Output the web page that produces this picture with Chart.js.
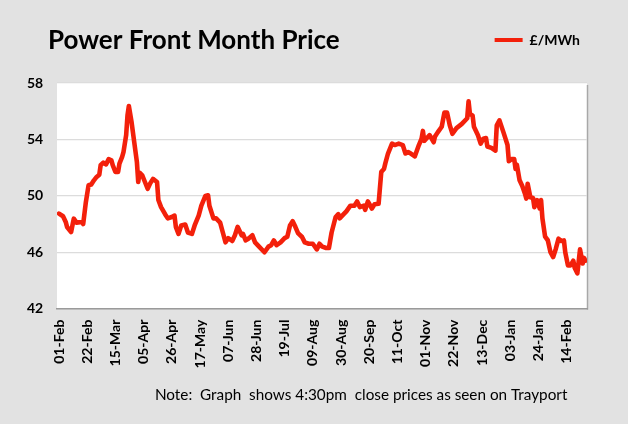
<!DOCTYPE html>
<html>
<head>
<meta charset="utf-8">
<script src="https://cdn.jsdelivr.net/npm/chart.js@4/dist/chart.umd.min.js"></script>
<style>
  html, body { margin: 0; padding: 0; background: #e2e2e2; }
  #c { display: block; background: #e2e2e2; }
</style>
</head>
<body>
<canvas id="c" width="628" height="424"></canvas>
<script>
// Days counted from 01-Feb (day 0)
const days = [0,3,5,6,9,11,13,17,18,20,22,24,26,28,30,31,33,35,37,39,40,42,44,45,47,48,50,51,52,54,56,58,59,60,62,64,66,68,70,73,74,76,79,81,84,86,87,89,91,94,96,99,101,104,106,109,111,112,115,117,120,122,124,126,129,131,133,136,137,139,141,144,146,149,153,156,158,160,162,165,168,170,172,174,176,178,181,183,186,189,192,194,196,199,201,203,206,208,209,212,214,217,220,222,224,227,228,230,233,235,238,240,242,243,245,248,250,253,256,258,260,262,265,268,270,271,272,274,276,279,280,282,285,287,289,291,293,296,300,304,305,306,308,309,312,314,316,318,319,322,325,326,328,331,334,335,337,339,340,341,343,345,347,348,349,351,353,354,356,358,359,360,362,364,366,368,370,372,374,376,377,379,381,383,384,386,388,390,391,392];
const prices = [48.74,48.55,48.15,47.79,47.43,48.38,48.10,48.15,48.00,49.56,50.75,50.80,51.10,51.34,51.50,52.17,52.36,52.23,52.60,52.52,52.17,51.70,51.70,52.28,52.76,53.10,54.30,55.70,56.37,55.24,53.82,52.40,50.98,51.64,51.45,50.98,50.50,50.90,51.20,50.98,49.70,49.20,48.70,48.40,48.50,48.60,47.80,47.30,47.90,47.96,47.40,47.30,47.90,48.60,49.30,49.99,50.04,49.30,48.40,48.40,48.10,47.40,46.70,47.00,46.80,47.20,47.80,47.20,47.30,46.84,46.96,47.20,46.70,46.40,46.00,46.40,46.50,46.84,46.50,46.70,47.00,47.10,47.90,48.20,47.80,47.36,47.08,46.70,46.60,46.60,46.20,46.60,46.40,46.30,46.30,47.40,48.50,48.70,48.40,48.70,48.90,49.30,49.30,49.60,49.20,49.30,49.00,49.60,49.10,49.40,49.44,51.70,51.90,52.30,53.00,53.70,53.60,53.70,53.60,53.00,53.10,53.00,52.80,53.60,54.05,54.60,53.90,54.10,54.30,53.80,54.20,54.50,54.90,55.90,55.90,55.00,54.40,54.80,55.10,55.50,56.70,55.80,55.70,54.90,54.30,53.70,54.05,54.10,53.50,53.40,53.20,55.00,55.35,54.50,53.60,52.45,52.60,52.60,51.90,52.20,51.10,50.70,50.15,49.80,50.86,49.90,49.85,49.20,49.70,49.10,49.70,48.40,47.10,46.85,46.00,45.66,46.25,46.96,46.80,46.84,46.00,45.07,45.07,45.40,44.90,44.50,46.20,45.20,45.60,45.40];
const tickLabels = ['01-Feb','22-Feb','15-Mar','05-Apr','26-Apr','17-May','07-Jun','28-Jun','19-Jul','09-Aug','30-Aug','20-Sep','11-Oct','01-Nov','22-Nov','13-Dec','03-Jan','24-Jan','14-Feb'];
const tickDays = [0,21,42,63,84,105,126,147,168,189,210,231,252,273,294,315,336,357,378];
const yTicks = [42,46,50,54,58];
const seriesName = '£/MWh';
const titleText = 'Power Front Month Price';
const noteText = 'Note:  Graph  shows 4:30pm  close prices as seen on Trayport';

const RED = '#f3200b';

const areaBg = {
  id: 'areaBg',
  beforeDraw(chart) {
    const {ctx, chartArea: a} = chart;
    ctx.save();
    ctx.fillStyle = '#ffffff';
    ctx.fillRect(a.left, a.top, a.right - a.left, a.bottom - a.top);
    ctx.strokeStyle = '#a8a8a8';
    ctx.lineWidth = 1.5;
    ctx.beginPath();
    ctx.moveTo(a.right + 0.5, a.top + 2);
    ctx.lineTo(a.right + 0.5, a.bottom + 1);
    ctx.stroke();
    ctx.restore();
  }
};

function build() {
  Chart.defaults.font.family = 'Lato, "Open Sans", sans-serif';
  Chart.defaults.color = '#000';
  new Chart(document.getElementById('c'), {
    type: 'line',
    data: {
      datasets: [{
        label: seriesName,
        data: days.map((d, i) => ({x: d, y: prices[i]})),
        borderColor: RED,
        backgroundColor: RED,
        borderWidth: 4.6,
        tension: 0,
        pointRadius: 0,
        borderJoinStyle: 'round',
        borderCapStyle: 'round'
      }]
    },
    options: {
      responsive: false,
      animation: false,
      devicePixelRatio: 1,
      layout: { padding: { top: 26, left: 48, right: 41, bottom: 0 } },
      plugins: {
        legend: {
          position: 'top',
          align: 'end',
          labels: {
            boxWidth: 28,
            boxHeight: 4,
            padding: 7,
            font: { size: 14, weight: 'bold' },
            color: '#000',
            generateLabels(chart) {
              return Chart.defaults.plugins.legend.labels.generateLabels(chart).map(l => Object.assign(l, {lineWidth: 0, fillStyle: RED}));
            }
          }
        },
        title: {
          display: true,
          text: titleText,
          align: 'start',
          weight: 900,
          font: { size: 26, weight: 'bold' },
          color: '#000',
          padding: { top: -31.6, bottom: 26.4 }
        },
        subtitle: {
          display: true,
          position: 'bottom',
          align: 'end',
          text: noteText + '     ',
          font: { size: 15.3, weight: 'normal' },
          color: '#000',
          padding: { top: 17, bottom: 20 }
        },
        tooltip: { enabled: false }
      },
      scales: {
        x: {
          type: 'linear',
          min: -1.5,
          max: 393.2,
          afterBuildTicks(scale) { scale.ticks = tickDays.map(v => ({value: v})); },
          afterFit(scale) { scale.height = 60; },
          grid: { display: false, drawTicks: false },
          border: { display: true, color: '#9a9a9a', width: 1.5 },
          ticks: {
            autoSkip: false,
            maxRotation: 90,
            minRotation: 90,
            padding: 11,
            font: { size: 14, weight: 'bold' },
            color: '#000',
            callback(value) { const i = tickDays.indexOf(value); return i >= 0 ? tickLabels[i] : ''; }
          }
        },
        y: {
          min: yTicks[0],
          max: yTicks[yTicks.length - 1],
          afterBuildTicks(scale) { scale.ticks = yTicks.map(v => ({value: v})); },
          afterFit(scale) { scale.width = 9; },
          grid: { color: '#dcdcdc', lineWidth: 1.3, drawTicks: false },
          border: { display: false },
          ticks: {
            mirror: true,
            crossAlign: 'near',
            padding: -30,
            font: { size: 14, weight: 'bold' },
            color: '#000'
          }
        }
      }
    },
    plugins: [areaBg]
  });
}

const fontsReady = document.fonts ? Promise.all([
  document.fonts.load('bold 26px Lato'),
  document.fonts.load('bold 14px Lato'),
  document.fonts.load('15.3px Lato')
]).catch(() => {}) : Promise.resolve();
fontsReady.then(build, build);
</script>
</body>
</html>
